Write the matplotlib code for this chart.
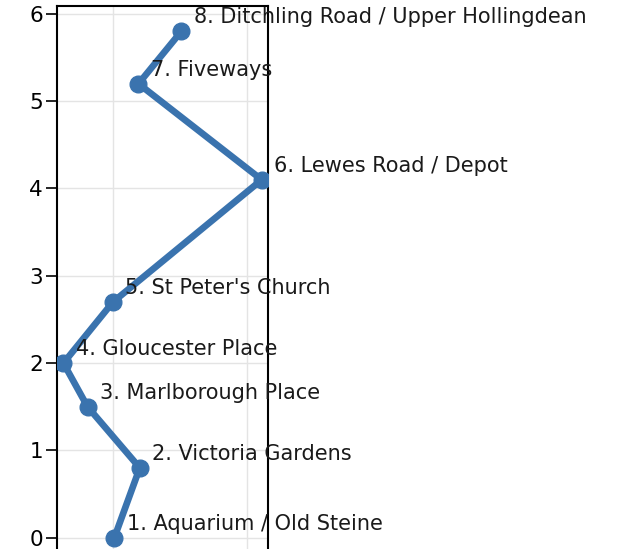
import matplotlib
matplotlib.use("Agg")
import matplotlib.pyplot as plt

stops = ["1. Aquarium / Old Steine", "2. Victoria Gardens", "3. Marlborough Place",
         "4. Gloucester Place", "5. St Peter's Church", "6. Lewes Road / Depot",
         "7. Fiveways", "8. Ditchling Road / Upper Hollingdean"]
x_vals = [0.01, 0.20, -0.19, -0.37, 0.0, 1.11, 0.19, 0.51]
y_vals = [0.0, 0.8, 1.5, 2.0, 2.7, 4.1, 5.2, 5.8]
y_ticks = [0, 1, 2, 3, 4, 5, 6]
x_grid = [0, 1]

fig = plt.figure(figsize=(6.24, 5.49), dpi=100)
ax = fig.add_axes([57/624, -0.0255, (268-57)/624, 1.0145])
ax.plot(x_vals, y_vals, color="#3a73ae", lw=4.8, marker="o", ms=12, solid_capstyle="round", zorder=3)
for xv, yv, s in zip(x_vals, y_vals, stops):
    ax.annotate(s, (xv, yv), xytext=(9, 3), textcoords="offset points",
                ha="left", va="bottom", fontsize=15, color="#1a1a1a",
                annotation_clip=False, zorder=4)
ax.set_xlim(-0.418, 1.157)
ax.set_ylim(-0.29, 6.09)
ax.set_yticks(y_ticks)
ax.set_xticks(x_grid)
ax.tick_params(axis="y", labelsize=15.5, length=8, width=1.2, pad=2)
ax.tick_params(axis="x", labelbottom=False, length=0)
ax.grid(True, color="#e4e4e4", lw=1)
ax.set_axisbelow(True)
for sp in ax.spines.values():
    sp.set_linewidth(1.5)
    sp.set_color("black")
fig.savefig("out.png", dpi=100)
